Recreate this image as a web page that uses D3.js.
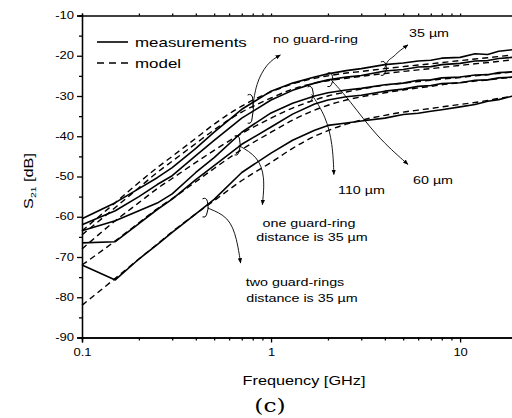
<!DOCTYPE html>
<html>
<head>
<meta charset="utf-8">
<script src="https://cdn.jsdelivr.net/npm/d3@7"></script>
<style>
  body { margin: 0; background: #fff; }
  svg { display: block; }
  text { font-family: Arial, "Liberation Sans", sans-serif; fill: #000; }
  .axis path, .axis line { stroke: #000; stroke-width: 1.3; }
  .axis text { font-size: 10px; }
</style>
</head>
<body>
<div id="chart"></div>
<script>
// frequency grid [GHz]
const freq = [0.1, 0.15, 0.2, 0.25, 0.3, 0.4, 0.5, 0.7, 1, 1.3, 1.7, 2, 2.5, 3, 4, 5, 6, 7, 8, 10, 12, 14, 16, 19];

// measured S21 [dB], curves from top to bottom
const meas1 = [-60.5, -56.5, -53, -50.3, -47.8, -43, -39, -33.3, -28.8, -26.8, -25.3, -24.5, -23.7, -23.2, -22.2, -21.8, -21.3, -21.1, -20.6, -20.4, -19.5, -19.7, -18.9, -18.5];
const meas2 = [-62, -58.5, -55, -52, -49.8, -44.8, -41, -35.5, -31, -28.6, -26.8, -26, -25.3, -24.9, -23.8, -23.4, -22.8, -22.7, -22.2, -21.9, -21.3, -21.2, -20.7, -20.4];
const meas3 = [-63.5, -61, -58.5, -56.6, -54.3, -49, -45.3, -39, -34.2, -31.8, -30, -29.2, -28.5, -28.1, -27.2, -26.8, -26.1, -26, -25.5, -25.3, -24.8, -24.7, -24.2, -24];
const meas4 = [-66.5, -66.2, -61.7, -58.2, -55.6, -50.8, -47.3, -42, -37.7, -34.5, -32, -31, -30.2, -29.8, -28.8, -28.3, -27.6, -27.4, -26.9, -26.7, -26.1, -26, -25.5, -25.3];
const meas5 = [-72, -75.7, -70.5, -66.9, -63.9, -59.3, -55.7, -49, -44.2, -41, -38.5, -37.3, -36.7, -36.2, -35.5, -34.6, -34.3, -33.8, -33.4, -32.7, -32.1, -31.3, -30.9, -30];

// model S21 [dB]
const model1 = [-63.5, -56.5, -51.5, -47.8, -45, -40.5, -37, -32.5, -29, -27, -25.6, -25, -24.3, -23.9, -23.2, -22.7, -22.3, -22, -21.7, -21.2, -20.8, -20.5, -20.2, -19.8];
const model2 = [-64.5, -57.7, -52.8, -49, -46.2, -41.8, -38.4, -34, -30.5, -28.3, -26.8, -26.2, -25.6, -25.1, -24.4, -23.9, -23.5, -23.2, -22.9, -22.4, -22, -21.7, -21.4, -21];
const model3 = [-68, -61, -56.5, -53, -50.5, -46.5, -43.5, -39.3, -35.5, -33, -31, -30, -29, -28.3, -27.3, -26.8, -26.4, -26.1, -25.8, -25.4, -25, -24.7, -24.4, -24];
const model4 = [-72, -66, -61.5, -58, -55.5, -51.3, -48, -43.3, -39, -36, -33.5, -32.3, -31, -30.2, -29.2, -28.5, -28, -27.6, -27.2, -26.7, -26.3, -26, -25.7, -25.3];
const model5 = [-82, -75.3, -70.5, -66.8, -63.7, -59.3, -56, -51, -46.5, -43, -40, -38.6, -37, -36, -34.8, -34, -33.5, -33.1, -32.7, -32.1, -31.6, -31.1, -30.6, -30];

const yTicks = [-90, -80, -70, -60, -50, -40, -30, -20, -10];
const yMinor = [-85, -75, -65, -55, -45, -35, -25, -15];
const xTicks = [0.1, 1, 10];
const xMinor = [0.2, 0.3, 0.4, 0.5, 0.6, 0.7, 0.8, 0.9, 2, 3, 4, 5, 6, 7, 8, 9, 20];

// annotation arrows in data units [freq, dB]: bracket span + leader path
const notes = [
  { br: [0.78, -30, -36.5], path: [[0.8, -33], [0.83, -27], [0.95, -21.8], [1.12, -19.8]] },
  { br: [3.95, -21.8, -24.6], path: [[3.98, -23.2], [4.15, -21], [4.4, -20.5], [4.7, -19], [5.3, -17.3]] },
  { br: [2.06, -24.6, -27.4], path: [[2.08, -26], [2.6, -31], [3.6, -40], [5.3, -47]] },
  { br: [1.62, -28, -31.2], path: [[1.64, -29.6], [1.95, -35], [2.12, -42], [2.15, -49.5]] },
  { br: [0.665, -40.2, -44.4], path: [[0.675, -42.3], [0.85, -45], [0.93, -50], [0.9, -57]] },
  { br: [0.45, -55.8, -59.8], path: [[0.46, -57.8], [0.6, -60], [0.66, -65.5], [0.69, -71.5]] }
];

const W = 512, H = 418;
const svg = d3.select("#chart").append("svg").attr("width", W).attr("height", H);

svg.append("defs").append("marker")
  .attr("id", "ah").attr("viewBox", "0 0 10 10").attr("refX", 9).attr("refY", 5)
  .attr("markerWidth", 6).attr("markerHeight", 6).attr("orient", "auto")
  .append("path").attr("d", "M0,1 L10,5 L0,9 Z").attr("fill", "#000");

const x = d3.scaleLog().domain([0.1, 20]).range([82, 517]);
const y = d3.scaleLinear().domain([-90, -10]).range([337.5, 15.5]);

// axes
svg.append("g").attr("class", "axis").attr("transform", "translate(82,0)")
  .call(d3.axisLeft(y).tickValues(yTicks).tickSize(5).tickPadding(3).tickFormat(d => String(d)));
svg.append("g").attr("class", "axis").attr("transform", "translate(82,0)")
  .call(d3.axisLeft(y).tickValues(yMinor).tickSize(3).tickFormat(""));
svg.append("g").attr("class", "axis").attr("transform", "translate(0,337.5)")
  .call(d3.axisBottom(x).tickValues(xTicks).tickSize(5).tickPadding(6).tickFormat(d => String(d)));
svg.append("g").attr("class", "axis").attr("transform", "translate(0,337.5)")
  .call(d3.axisBottom(x).tickValues(xMinor).tickSize(3).tickFormat(""));
svg.append("g").attr("class", "axis").attr("transform", "translate(0,15.5)")
  .call(d3.axisTop(x).tickValues(xTicks.concat(xMinor)).tickSize(2).tickFormat(""));
svg.selectAll(".axis .domain").attr("stroke-width", 1.6);

// curves
const line = d3.line().x(d => x(d[0])).y(d => y(d[1]));
const smooth = d3.line().x(d => x(d[0])).y(d => y(d[1])).curve(d3.curveMonotoneX);

[model1, model2, model3, model4, model5].forEach(s => {
  svg.append("path").datum(freq.map((f, i) => [f, s[i]]))
    .attr("d", smooth).attr("fill", "none").attr("stroke", "#000")
    .attr("stroke-width", 1.4).attr("stroke-dasharray", "6,4");
});
[meas1, meas2, meas3, meas4, meas5].forEach(s => {
  svg.append("path").datum(freq.map((f, i) => [f, s[i]]))
    .attr("d", line).attr("fill", "none").attr("stroke", "#000")
    .attr("stroke-width", 1.6).attr("stroke-linejoin", "round");
});

// brackets and leader arrows
const lead = d3.line().x(d => x(d[0])).y(d => y(d[1])).curve(d3.curveBasis);
notes.forEach(n => {
  const bx = x(n.br[0]), y0 = y(n.br[1]), y1 = y(n.br[2]);
  const ym = (y0 + y1) / 2;
  svg.append("path")
    .attr("d", `M${bx - 3},${y0 - 1} Q${bx + 1},${y0 - 3} ${bx + 2},${y0 + 2} Q${bx + 4},${ym} ${bx + 1},${y1 - 1} Q${bx},${y1 + 2} ${bx - 3},${y1 + 1}`)
    .attr("fill", "none").attr("stroke", "#000").attr("stroke-width", 1);
  svg.append("path").datum(n.path).attr("d", lead)
    .attr("fill", "none").attr("stroke", "#000").attr("stroke-width", 0.9)
    .attr("marker-end", "url(#ah)");
});

// legend
svg.append("line").attr("x1", 97).attr("x2", 128).attr("y1", 42).attr("y2", 42)
  .attr("stroke", "#000").attr("stroke-width", 1.6);
svg.append("line").attr("x1", 97).attr("x2", 128).attr("y1", 63).attr("y2", 63)
  .attr("stroke", "#000").attr("stroke-width", 1.6).attr("stroke-dasharray", "7,5");
svg.append("text").attr("x", 135).attr("y", 46.5).attr("font-size", 13).text("measurements");
svg.append("text").attr("x", 135).attr("y", 67.5).attr("font-size", 13).text("model");

// annotation texts
const ann = svg.append("g").attr("font-size", 11);
ann.append("text").attr("x", 273).attr("y", 43).text("no guard-ring");
ann.append("text").attr("x", 409).attr("y", 37).text("35 \u00b5m");
ann.append("text").attr("x", 413).attr("y", 184).text("60 \u00b5m");
ann.append("text").attr("x", 338).attr("y", 194).text("110 \u00b5m");
ann.append("text").attr("x", 309).attr("y", 227).attr("text-anchor", "middle").text("one guard-ring");
ann.append("text").attr("x", 312).attr("y", 241).attr("text-anchor", "middle").text("distance is 35 \u00b5m");
ann.append("text").attr("x", 295).attr("y", 286).attr("text-anchor", "middle").text("two guard-rings");
ann.append("text").attr("x", 302).attr("y", 302).attr("text-anchor", "middle").text("distance is 35 \u00b5m");

// axis titles
const yl = svg.append("text").attr("transform", "translate(33,181) rotate(-90)")
  .attr("text-anchor", "middle").attr("font-size", 12.5);
yl.append("tspan").text("S");
yl.append("tspan").attr("font-size", 8).attr("dy", 3).text("21");
yl.append("tspan").attr("dy", -3).text(" [dB]");

svg.append("text").attr("x", 304).attr("y", 385).attr("text-anchor", "middle")
  .attr("font-size", 12.5).text("Frequency [GHz]");
svg.append("text").attr("x", 270).attr("y", 412).attr("text-anchor", "middle")
  .attr("font-size", 18).style("font-family", "'DejaVu Serif', 'Liberation Serif', serif").text("(c)");

// the scanned figure's lettering is wider than Arial: stretch every label horizontally
svg.selectAll("text").each(function () {
  const w = this.getComputedTextLength();
  if (w > 0) d3.select(this).attr("textLength", w * 1.3).attr("lengthAdjust", "spacingAndGlyphs");
});
</script>
</body>
</html>
